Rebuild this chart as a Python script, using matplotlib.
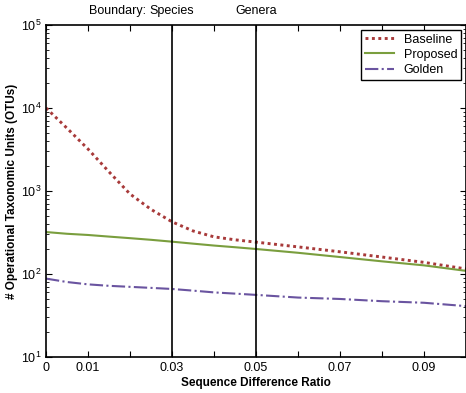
import numpy as np
import matplotlib
matplotlib.use("Agg")
import matplotlib.pyplot as plt

plt.rcParams['font.family'] = ['Liberation Sans', 'DejaVu Sans']
plt.rcParams['mathtext.fontset'] = 'custom'
plt.rcParams['mathtext.rm'] = 'Liberation Sans'
plt.rcParams['mathtext.it'] = 'Liberation Sans:italic'
plt.rcParams['mathtext.bf'] = 'Liberation Sans:bold'

# sequence difference ratio
ratio = [0, 0.005, 0.01, 0.015, 0.02, 0.025, 0.03, 0.035, 0.04, 0.045,
         0.05, 0.06, 0.07, 0.08, 0.09, 0.1]
baseline = [10000, 5700, 3200, 1700, 920, 600, 425, 330, 280, 258,
            242, 212, 185, 160, 138, 115]
proposed = [320, 305, 295, 282, 270, 258, 245, 232, 220, 210,
            200, 180, 160, 142, 127, 109]
golden = [88, 80, 75, 72, 70, 68, 66, 63, 60, 58,
          56, 52, 50, 47, 45, 41]

boundaries = [0.03, 0.05]
boundary_names = ['Species', 'Genera']

fig = plt.figure(figsize=(4.66, 3.93), dpi=100)
ax = fig.add_axes([0.0987, 0.0916, 0.9013, 0.845])

ax.plot(ratio, baseline, color='#a83a3a', linestyle=(0, (1, 1.2)), linewidth=2.1, label='Baseline')
ax.plot(ratio, proposed, color='#7a9e3e', linestyle='-', linewidth=1.5, label='Proposed')
ax.plot(ratio, golden, color='#6a54a0', linestyle='-.', linewidth=1.5, label='Golden')

for b in boundaries:
    ax.axvline(b, color='black', linewidth=1.2)

ax.set_yscale('log')
ax.set_xlim(0, 0.1)
ax.set_ylim(10, 1e5)
ax.set_xticks(np.arange(0, 0.1001, 0.01))
ax.set_xticklabels(['0', '0.01', '', '0.03', '', '0.05', '', '0.07', '', '0.09', ''])
ax.tick_params(which='both', direction='in', top=True, right=True, labelsize=9)
ax.tick_params(which='major', length=4)
ax.tick_params(which='minor', length=2)
for s in ax.spines.values():
    s.set_linewidth(1.2)

ax.set_xlabel('Sequence Difference Ratio', fontsize=8.5, fontweight='bold', labelpad=2)
ax.set_ylabel('# Operational Taxonomic Units (OTUs)', fontsize=8.5, fontweight='bold', labelpad=2)

trans = ax.get_xaxis_transform()
ax.text(0.0238, 1.025, 'Boundary:', transform=trans, ha='right', va='bottom', fontsize=9)
for b, name in zip(boundaries, boundary_names):
    ax.text(b, 1.025, name, transform=trans, ha='center', va='bottom', fontsize=9)

leg = ax.legend(loc='upper right', fontsize=9, fancybox=False, framealpha=1,
                edgecolor='black', borderaxespad=0.4, handlelength=2.3, borderpad=0.3,
                labelspacing=0.25)
leg.get_frame().set_linewidth(1.0)

fig.savefig('out.png', dpi=100)
